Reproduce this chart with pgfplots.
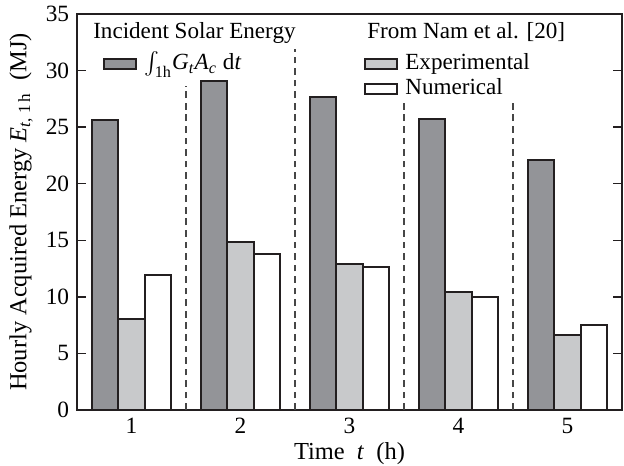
\documentclass[border=0pt]{standalone}
\usepackage{fontspec}
\setmainfont{Liberation Serif}
\setmathrm{Liberation Serif}
\usepackage{pgfplots}
\pgfplotsset{compat=1.18}
\definecolor{barDark}{RGB}{147,148,152}
\definecolor{barLight}{RGB}{200,201,203}
\definecolor{edge}{RGB}{35,31,32}
\definecolor{dashc}{RGB}{70,70,70}

\pgfplotsset{
  barleg/.style={
    legend image code/.code={\draw[##1] (0pt,-2.25pt) rectangle (14.4pt,2.25pt);},
  },
  common/.style={
    scale only axis, width=245.25pt, height=178.2pt,
    xmin=0.5, xmax=5.5, ymin=0, ymax=35,
  },
}

\begin{document}
\begin{tikzpicture}
\begin{axis}[
  common,
  name=main,
  xtick={1,2,3,4,5},
  ytick={0,5,...,35},
  major x tick style={draw=none},
  tick align=inside,
  ytick pos=both,
  yticklabel pos=left,
  xtick pos=bottom,
  tick style={line width=0.6pt, edge},
  major tick length=4.2pt,
  axis line style={line width=0.6pt, edge},
  /pgf/number format/assume math mode=true,
  ticklabel style={font=\fontsize{10.5}{12}\selectfont},
  xlabel={Time \ \textit{t}\ \ (h)},
  ylabel={Hourly Acquired Energy \textit{E}\textsubscript{\textit{t}, 1\,h}\ \ (MJ)},
  label style={font=\fontsize{11}{12}\selectfont},
  xlabel style={yshift=3pt},
  ylabel style={yshift=-1pt},
  barleg,
  legend style={draw=none, fill=none, inner sep=0pt,
    at={(0.046,0.873)}, anchor=west,
    nodes={inner sep=1pt, text height=7pt, text depth=2pt, font=\fontsize{10.4}{12}\selectfont},
    column sep=2.5pt},
  legend cell align=left,
]
\addplot[ybar, bar width=0.244, bar shift=-0.244, fill=barDark, draw=edge, line width=0.9pt]
  coordinates {(1,25.6) (2,29.1) (3,27.7) (4,25.7) (5,22.1)};
\addlegendentry{$\int_{\mathrm{1h}}$\textit{G}\textsubscript{\textit{t}}\textit{A}\textsubscript{\textit{c}} d\textit{t}}
\addplot[ybar, bar width=0.244, bar shift=0, fill=barLight, draw=edge, line width=0.9pt, forget plot]
  coordinates {(1,8.0) (2,14.85) (3,12.9) (4,10.4) (5,6.6)};
\addplot[ybar, bar width=0.244, bar shift=0.244, fill=white, draw=edge, line width=0.9pt, forget plot]
  coordinates {(1,11.9) (2,13.8) (3,12.6) (4,10.0) (5,7.5)};
\addplot[sharp plot, dashc, line width=0.7pt, dash pattern=on 3pt off 2.2pt, forget plot]
  coordinates {(1.5,0) (1.5,28.6)};
\addplot[sharp plot, dashc, line width=0.7pt, dash pattern=on 3pt off 2.2pt, forget plot]
  coordinates {(2.5,0) (2.5,31.9)};
\addplot[sharp plot, dashc, line width=0.7pt, dash pattern=on 3pt off 2.2pt, forget plot]
  coordinates {(3.5,0) (3.5,27.3)};
\addplot[sharp plot, dashc, line width=0.7pt, dash pattern=on 3pt off 2.2pt, forget plot]
  coordinates {(4.5,0) (4.5,27.3)};
\node[anchor=base west, inner sep=0pt, font=\fontsize{10.4}{12}\selectfont] at (rel axis cs:0.029,0.939) {Incident Solar Energy};
\node[anchor=base west, inner sep=0pt, font=\fontsize{10.4}{12}\selectfont] at (rel axis cs:0.532,0.939) {From Nam et al. [20]};
\end{axis}
\begin{axis}[
  common,
  hide axis,
  barleg,
  legend style={draw=none, fill=none, inner sep=0pt,
    at={(0.525,0.843)}, anchor=west,
    nodes={inner sep=1pt, text height=7pt, text depth=2pt, font=\fontsize{10.4}{12}\selectfont},
    column sep=2.5pt, row sep=0.25pt},
  legend cell align=left,
]
\addlegendimage{fill=barLight, draw=edge, line width=0.9pt}
\addlegendentry{Experimental}
\addlegendimage{fill=white, draw=edge, line width=0.9pt}
\addlegendentry{Numerical}
\end{axis}
\pgfresetboundingbox
\path[use as bounding box] ([shift={(-34.65pt,-24.75pt)}]main.south west) rectangle ([shift={(0.9pt,6.3pt)}]main.north east);
\end{tikzpicture}
\end{document}
